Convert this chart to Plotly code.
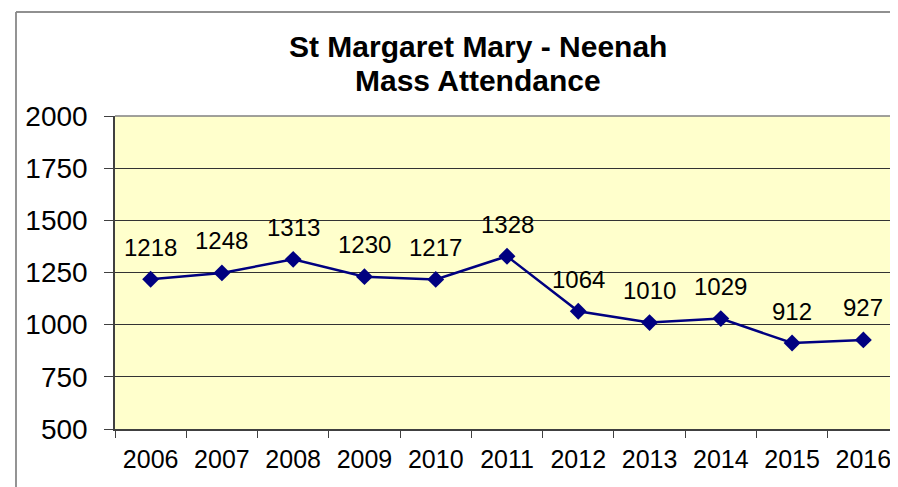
import plotly.graph_objects as go

years = ["2006", "2007", "2008", "2009", "2010", "2011", "2012", "2013", "2014", "2015", "2016"]
attendance = [1218, 1248, 1313, 1230, 1217, 1328, 1064, 1010, 1029, 912, 927]
y_ticks = [500, 750, 1000, 1250, 1500, 1750, 2000]
title_lines = ["St Margaret Mary - Neenah", "Mass Attendance"]

W, H = 898, 487
L, R, T, B = 107, 7, 108, 66
pw, ph = W - L - R, H - T - B

def px_x(p):
    return (p - L) / pw

def px_y(p):
    return (H - B - p) / ph

FONT = "Liberation Sans, Arial, sans-serif"

fig = go.Figure()
fig.add_trace(go.Scatter(
    x=years, y=attendance, mode="lines+markers",
    line=dict(color="#000080", width=2.5),
    marker=dict(symbol="diamond", size=13, color="#000080"),
    hoverinfo="x+y", showlegend=False,
))

annotations = []
for i, v in enumerate(attendance):
    annotations.append(dict(
        x=i, y=v, xref="x", yref="y", text=str(v), showarrow=False,
        yshift=32, yanchor="middle", xanchor="center",
        font=dict(family=FONT, size=24, color="black"),
    ))
for i, line in enumerate(title_lines):
    annotations.append(dict(
        x=px_x(470), y=px_y(38 + 34 * i), xref="paper", yref="paper",
        text="<b>%s</b>" % line, showarrow=False, xanchor="center", yanchor="middle",
        font=dict(family=FONT, size=30, color="black"),
    ))

shapes = [
    dict(type="line", xref="paper", yref="paper", x0=px_x(8), x1=px_x(905),
         y0=px_y(4), y1=px_y(4), line=dict(color="#222222", width=1.2)),
    dict(type="line", xref="paper", yref="paper", x0=px_x(8), x1=px_x(8),
         y0=px_y(4), y1=px_y(495), line=dict(color="#888888", width=1.8)),
    dict(type="line", xref="paper", yref="paper", x0=0, x1=1, y0=1, y1=1,
         line=dict(color="#808080", width=1.5)),
    dict(type="line", xref="paper", yref="paper", x0=1, x1=1, y0=0, y1=1,
         line=dict(color="#808080", width=2)),
]

fig.update_layout(
    width=W, height=H,
    margin=dict(l=L, r=R, t=T, b=B),
    paper_bgcolor="white",
    plot_bgcolor="#FFFFCC",
    font=dict(family=FONT, color="black"),
    annotations=annotations,
    shapes=shapes,
    showlegend=False,
)
fig.update_xaxes(
    type="category", range=[-0.5, 10.5], tickson="boundaries",
    ticks="outside", ticklen=7, tickcolor="#404040", tickwidth=1,
    showline=True, linecolor="#404040", linewidth=1.5,
    showgrid=False, tickfont=dict(family=FONT, size=25, color="black"),
    ticklabelstandoff=7,
)
fig.update_yaxes(
    range=[500, 2000], tickvals=y_ticks, ticktext=[str(v) for v in y_ticks],
    ticks="outside", ticklen=9, tickcolor="#404040", tickwidth=1,
    showline=True, linecolor="#404040", linewidth=1.5,
    showgrid=True, gridcolor="#333333", gridwidth=1,
    zeroline=False, tickfont=dict(family=FONT, size=28, color="black"),
    ticklabelstandoff=11,
)

fig.write_html("out.html")
